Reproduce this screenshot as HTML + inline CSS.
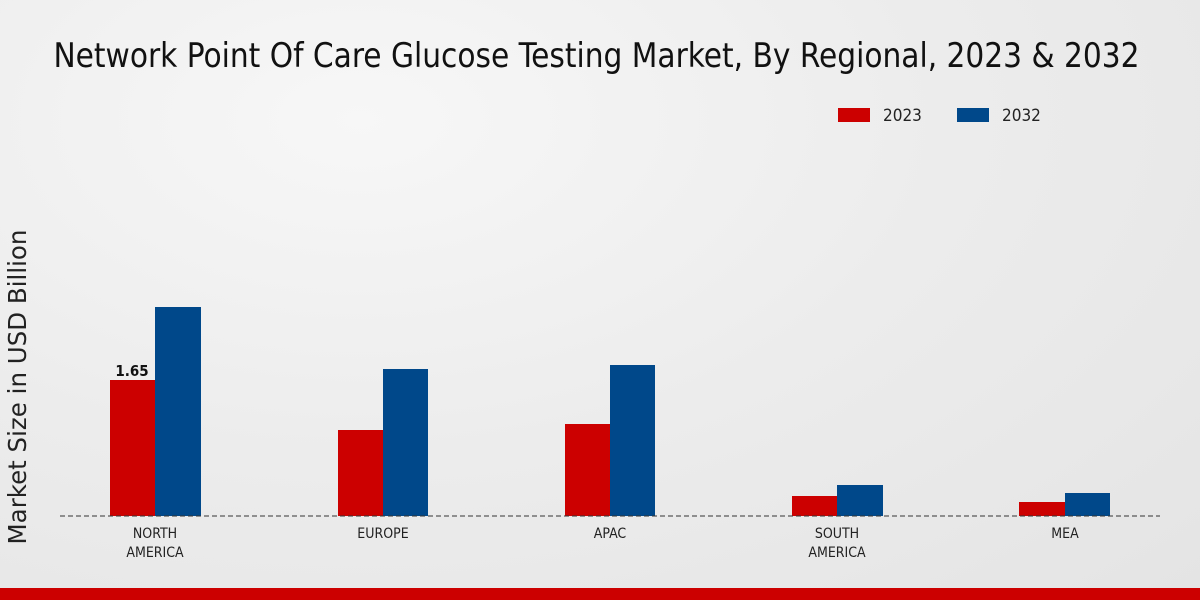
<!DOCTYPE html>
<html><head><meta charset="utf-8"><style>
html,body{margin:0;padding:0}
body{width:1200px;height:600px;overflow:hidden;background:radial-gradient(ellipse at 30% 20%,#f7f7f7 0%,#ececec 50%,#e4e4e4 100%);font-family:"DejaVu Sans","Liberation Sans",sans-serif;position:relative}
.t{position:absolute;left:0;width:1193px;top:36px;text-align:center;font-family:"Liberation Sans Narrow","DejaVu Sans Condensed","Liberation Sans",sans-serif;font-size:34px;color:#111;transform:scaleX(0.97);transform-origin:center}
</style></head><body>
<div class="t">Network Point Of Care Glucose Testing Market, By Regional, 2023 &amp; 2032</div>
<svg width="1200" height="600" style="position:absolute;left:0;top:0">
<rect x="838" y="108" width="32" height="14" fill="#cc0000"/>
<text x="883" y="121" font-size="17" fill="#222" font-family="DejaVu Sans Condensed,Liberation Sans,sans-serif">2023</text>
<rect x="957" y="108" width="32" height="14" fill="#00488a"/>
<text x="1002" y="121" font-size="17" fill="#222" font-family="DejaVu Sans Condensed,Liberation Sans,sans-serif">2032</text>
<text transform="translate(26,387) rotate(-90)" text-anchor="middle" font-size="24.5" fill="#222">Market Size in USD Billion</text>
<g fill="#cc0000">
<rect x="110" y="380" width="45" height="136"/>
<rect x="338" y="430" width="45" height="86"/>
<rect x="565" y="424" width="45" height="92"/>
<rect x="792" y="496" width="45" height="20"/>
<rect x="1019" y="502" width="46" height="14"/>
</g>
<g fill="#00488a">
<rect x="155" y="307" width="46" height="209"/>
<rect x="383" y="369" width="45" height="147"/>
<rect x="610" y="365" width="45" height="151"/>
<rect x="837" y="485" width="46" height="31"/>
<rect x="1065" y="493" width="45" height="23"/>
</g>
<line x1="60" y1="516" x2="1160" y2="516" stroke="#333" stroke-dasharray="5,3" stroke-width="1"/>
<text x="132" y="376" text-anchor="middle" font-size="15" font-weight="bold" fill="#111" font-family="DejaVu Sans Condensed,Liberation Sans,sans-serif">1.65</text>
<g font-size="14" fill="#222" text-anchor="middle" font-family="DejaVu Sans Condensed,Liberation Sans,sans-serif">
<text x="155" y="538">NORTH</text><text x="155" y="557">AMERICA</text>
<text x="383" y="538">EUROPE</text>
<text x="610" y="538">APAC</text>
<text x="837" y="538">SOUTH</text><text x="837" y="557">AMERICA</text>
<text x="1065" y="538">MEA</text>
</g>
<rect x="0" y="588" width="1200" height="12" fill="#cc0000"/>
</svg>
</body></html>
